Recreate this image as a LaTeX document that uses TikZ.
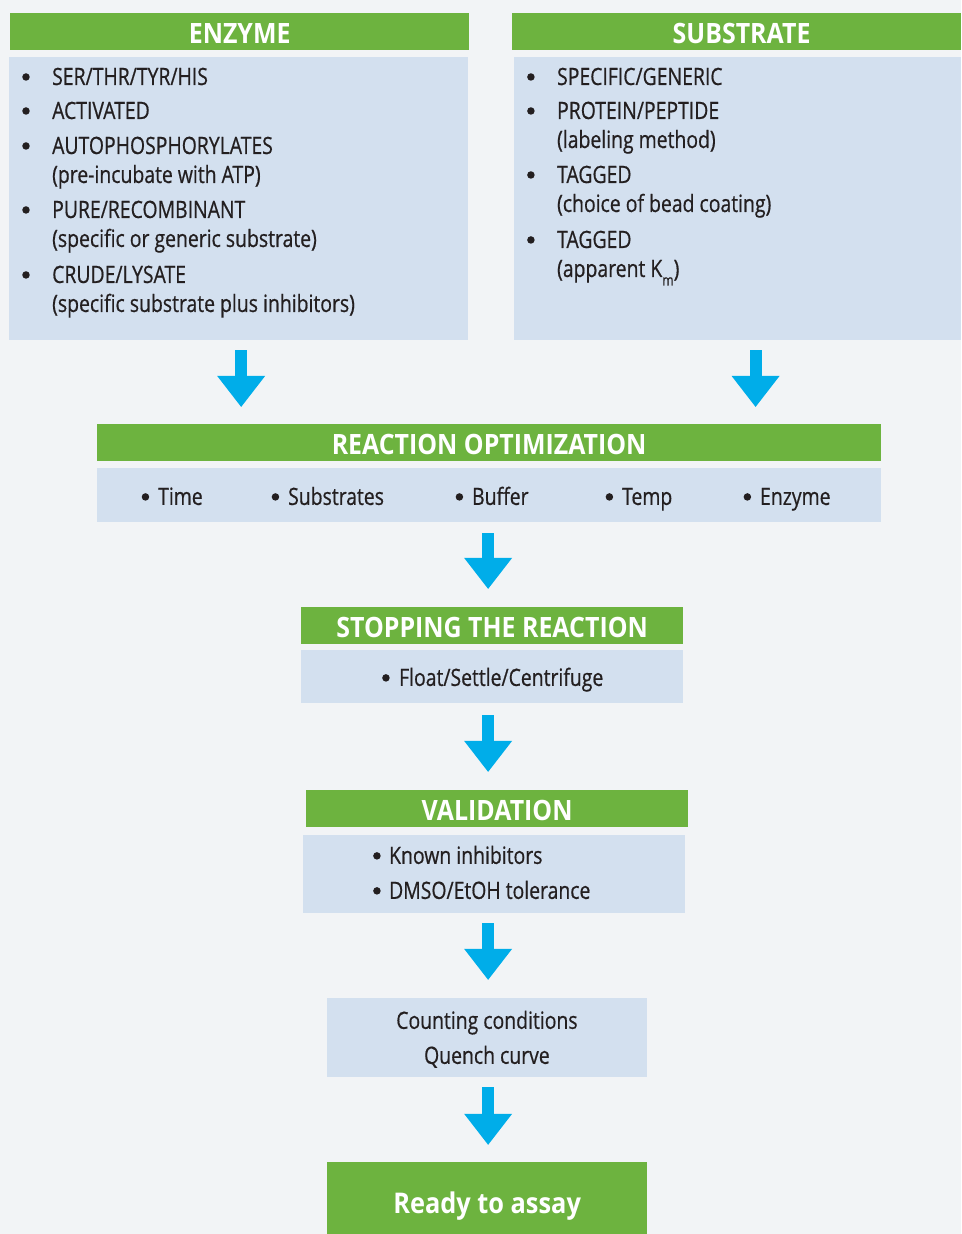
\documentclass[tikz,border=0pt]{standalone}
\usepackage{fontspec}
\setmainfont{Open Sans}[FakeStretch=0.815, FakeBold=0.6]
\newfontfamily\hdrfam{Open Sans}[FakeStretch=0.89]
\usetikzlibrary{arrows.meta,calc}
\definecolor{bg}{HTML}{F2F4F6}
\definecolor{hdrgreen}{HTML}{6DB33F}
\definecolor{bodyblue}{HTML}{D3E0EF}
\definecolor{arrowcyan}{HTML}{00ADE9}
\definecolor{ink}{HTML}{231F20}
\newcommand\myBody{\fontsize{23.8}{28}\selectfont}
\newcommand\myHdr{\hdrfam\bfseries\fontsize{28}{30}\selectfont}
\newcommand\myReady{\hdrfam\bfseries\fontsize{28.5}{30}\selectfont}
\begin{document}
\begin{tikzpicture}[x=1pt,y=-1pt,
  hdr/.style={fill=hdrgreen, text=white, font=\myHdr, inner sep=0pt, text height=23pt, text depth=0pt, anchor=north west},
  panel/.style={fill=bodyblue, inner sep=0pt, anchor=north west},
  txt/.style={text=ink, font=\myBody, inner sep=0pt, anchor=base west},
  bul/.style={circle, fill=ink, minimum size=7.5pt, inner sep=0pt},
  ctxt/.style={text=ink, font=\myBody, inner sep=0pt, anchor=base},
  flow/.style={draw=arrowcyan, line width=12pt, -{Triangle[width=48pt,length=31pt,line width=0pt]}}]
\fill[bg] (0,0) rectangle (961,1234);
% boxes
\node[hdr, minimum width=459pt, minimum height=37pt] (enzH) at (10,13) {ENZYME};
\node[panel, minimum width=459pt, minimum height=283pt] (enzB) at (9,57) {};
\node[hdr, minimum width=449pt, minimum height=37pt] (subH) at (512,13) {\hspace*{10pt}SUBSTRATE};
\node[panel, minimum width=447pt, minimum height=283pt] (subB) at (514,57) {};
\node[hdr, minimum width=784pt, minimum height=37pt] (roH) at (97,424) {REACTION OPTIMIZATION};
\node[panel, minimum width=784pt, minimum height=54pt] (roB) at (97,468) {};
\node[hdr, minimum width=382pt, minimum height=37pt] (stH) at (301,607) {STOPPING THE REACTION};
\node[panel, minimum width=382pt, minimum height=53pt] (stB) at (301,650) {};
\node[hdr, minimum width=382pt, minimum height=37pt] (vaH) at (306,790) {VALIDATION};
\node[panel, minimum width=382pt, minimum height=78pt] (vaB) at (303,835) {};
\node[panel, minimum width=320pt, minimum height=79pt] (cnt) at (327,998) {};
\node[hdr, font=\myReady, text height=30pt, minimum width=320pt, minimum height=72pt] (ready) at (327,1162) {Ready to assay};
% enzyme texts
\node[bul] (ed1) at (26,77) {};
\node[bul] (ed2) at (26,111) {};
\node[bul] (ed3) at (26,146) {};
\node[bul] (ed4) at (26,210) {};
\node[bul] (ed5) at (26,275) {};
\node[txt] (et1) at (52,85) {SER/THR/TYR/HIS};
\node[txt] (et2) at (52,119) {ACTIVATED};
\node[txt] (et3) at (52,154) {AUTOPHOSPHORYLATES};
\node[txt] (et4) at (52,183) {(pre-incubate with ATP)};
\node[txt] (et5) at (52,218) {PURE/RECOMBINANT};
\node[txt] (et6) at (52,247) {(specific or generic substrate)};
\node[txt] (et7) at (52,283) {CRUDE/LYSATE};
\node[txt] (et8) at (52,312) {(specific substrate plus inhibitors)};
% substrate texts
\node[bul] (sd1) at (531,77) {};
\node[bul] (sd2) at (531,111) {};
\node[bul] (sd3) at (531,175) {};
\node[bul] (sd4) at (531,240) {};
\node[txt] (st1) at (557,85) {SPECIFIC/GENERIC};
\node[txt] (st2) at (557,119) {PROTEIN/PEPTIDE};
\node[txt] (st3) at (557,148) {(labeling method)};
\node[txt] (st4) at (557,183) {TAGGED};
\node[txt] (st5) at (557,212) {(choice of bead coating)};
\node[txt] (st6) at (557,248) {TAGGED};
\node[txt] (st7) at (557,277) {(apparent K\raisebox{-8.5pt}{\fontsize{15}{15}\selectfont m})};
% reaction optimization items
\node[bul] (rb1) at (145.5,497) {};
\node[bul] (rb2) at (275.5,497) {};
\node[bul] (rb3) at (459.5,497) {};
\node[bul] (rb4) at (609.5,497) {};
\node[bul] (rb5) at (747.5,497) {};
\node[txt] (r1) at (158,505) {Time};
\node[txt] (r2) at (288,505) {Substrates};
\node[txt] (r3) at (472,505) {Buffer};
\node[txt] (r4) at (622,505) {Temp};
\node[txt] (r5) at (760,505) {Enzyme};
% stopping
\node[bul] (sb1) at (386,678) {};
\node[txt] (s1) at (399,686) {Float/Settle/Centrifuge};
% validation
\node[bul] (vb1) at (377,856) {};
\node[bul] (vb2) at (377,891) {};
\node[txt] (v1) at (389,864) {Known inhibitors};
\node[txt] (v2) at (389,899) {DMSO/EtOH tolerance};
% counting
\node[ctxt] (c1) at (487,1029) {Counting conditions};
\node[ctxt] (c2) at (487,1064) {Quench curve};
% arrows
\draw[flow] ($(enzB.south)+(2.5,10)$) -- ($(enzB.south |- roH.north)+(2.5,-17)$);
\draw[flow] ($(subB.south)+(18,10)$) -- ($(subB.south |- roH.north)+(18,-17)$);
\draw[flow] ($(roB.south)+(-1,11)$) -- ($(roB.south |- stH.north)+(-1,-18)$);
\draw[flow] ($(stB.south)+(-4,12)$) -- ($(stB.south |- vaH.north)+(-4,-18)$);
\draw[flow] ($(vaB.south)+(-6,10)$) -- ($(vaB.south |- cnt.north)+(-6,-18)$);
\draw[flow] ($(cnt.south)+(1,10)$) -- ($(cnt.south |- ready.north)+(1,-17)$);
\end{tikzpicture}
\end{document}
